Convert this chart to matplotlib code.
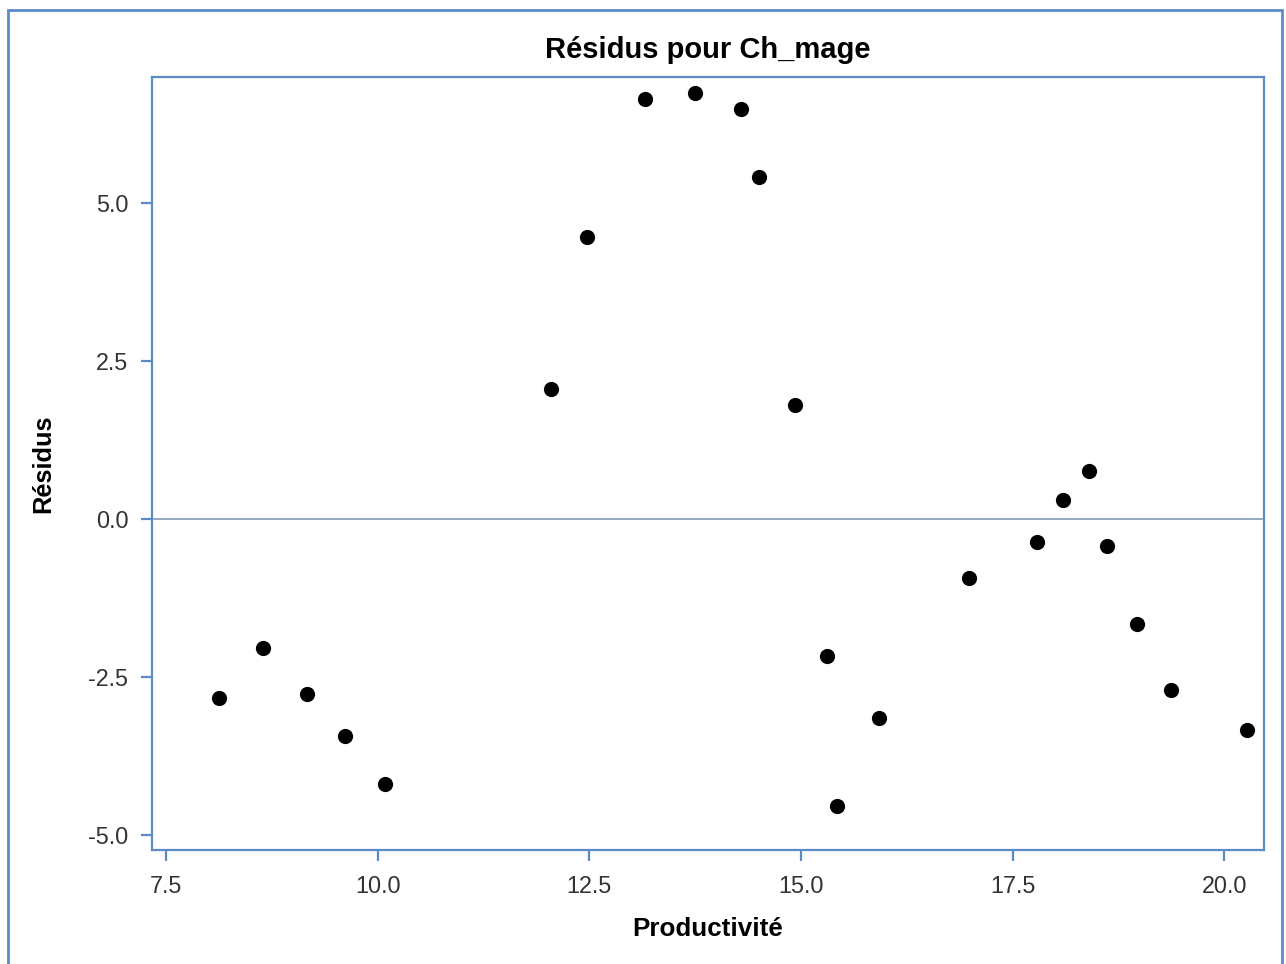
import matplotlib
matplotlib.use("Agg")
import matplotlib.pyplot as plt
from matplotlib.patches import Rectangle

productivite = [8.126, 8.646, 9.166, 9.615, 10.087, 12.048, 12.473, 13.159, 13.749,
                14.293, 14.505, 14.931, 15.309, 15.427, 15.923, 16.986, 17.789,
                18.096, 18.403, 18.616, 18.971, 19.372, 20.270]
residus = [-2.832, -2.041, -2.769, -3.434, -4.193, 2.057, 4.462, 6.646, 6.741,
           6.487, 5.411, 1.804, -2.168, -4.541, -3.149, -0.934, -0.364,
           0.301, 0.759, -0.427, -1.661, -2.706, -3.339]
xticks = [7.5, 10.0, 12.5, 15.0, 17.5, 20.0]
yticks = [-5.0, -2.5, 0.0, 2.5, 5.0]

plt.rcParams['font.family'] = ['Liberation Sans', 'DejaVu Sans']
W, H = 1286, 964
fig = plt.figure(figsize=(W / 100, H / 100), dpi=100)
frame_col = '#5B8BC6'

# outer border
fig.patches.append(Rectangle((7.5 / W, -0.05), (1282 - 7.5) / W, (H - 9.5) / H + 0.05,
                             transform=fig.transFigure, fill=False,
                             edgecolor=frame_col, linewidth=2, zorder=0))

ax = fig.add_axes([152 / W, (H - 850) / H, 1112 / W, 773 / H])
ax.scatter(productivite, residus, s=120, color='black', zorder=3, linewidths=0)
ax.axhline(0, color='#8EA2BC', linewidth=1.3, zorder=2)

ax.set_xlim(7.335, 20.47)
ax.set_ylim(-5.237, 6.99)
ax.set_xticks(xticks)
ax.set_yticks(yticks)
ax.set_xticklabels([f"{v:.1f}" for v in xticks])
ax.set_yticklabels([f"{v:.1f}" for v in yticks])

for s in ax.spines.values():
    s.set_color(frame_col)
    s.set_linewidth(1.6)
ax.tick_params(axis='both', direction='out', length=8, width=1.6, color=frame_col,
               labelsize=16.8, labelcolor='#333333')
ax.tick_params(axis='x', pad=10)
ax.tick_params(axis='y', pad=9)

ax.set_title("Résidus pour Ch_mage", fontsize=21, fontweight='bold', pad=14)
ax.set_xlabel("Productivité", fontsize=18.7, fontweight='bold', labelpad=14)
ax.set_ylabel("Résidus", fontsize=18.3, fontweight='bold', labelpad=24)

fig.savefig("out.png", dpi=100)
